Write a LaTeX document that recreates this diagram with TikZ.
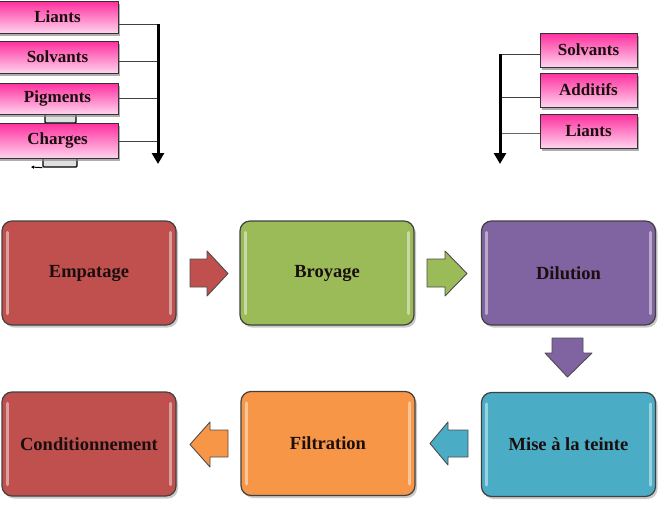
\documentclass[tikz,border=0pt]{standalone}
\usepackage{fontspec}
\setmainfont{Liberation Serif}
\usetikzlibrary{arrows.meta,shadows}
\definecolor{cred}{HTML}{C0504D}
\definecolor{cgreen}{HTML}{9BBB59}
\definecolor{cpurple}{HTML}{8064A2}
\definecolor{cblue}{HTML}{4BACC6}
\definecolor{corange}{HTML}{F79646}
\definecolor{pinktop}{HTML}{FF2E9E}
\definecolor{pinkbot}{HTML}{FFD3EE}
\definecolor{txt}{HTML}{1A0E0E}
\tikzset{
  pinkbox/.style={draw=black!80, line width=0.8pt, top color=pinktop, bottom color=pinkbot,
    text=txt, font=\bfseries\fontsize{17}{17}\selectfont, inner sep=0pt,
    drop shadow={shadow xshift=2pt, shadow yshift=-2.5pt, fill=black!45, opacity=0.7}},
  bigbox/.style={draw=black!75, line width=1.2pt, rounded corners=10pt,
    minimum width=174pt, minimum height=104pt, text=txt,
    font=\bfseries\fontsize{18.5}{18}\selectfont,
    drop shadow={shadow xshift=2pt, shadow yshift=-2.5pt, fill=black!35, opacity=0.6}},
  hlines/.style={line width=3pt, draw=white, opacity=0.45, line cap=round},
  blockarrow/.style={draw=black!70, line width=0.9pt, line join=round},
  feed/.style={draw=black!75, line width=1pt},
  mainarrow/.style={line width=3pt, -{Triangle[width=12pt,length=11pt]}},
  tinybox/.style={draw=black, line width=1.3pt, fill=black!12, inner sep=0pt, rounded corners=1pt},
}
\begin{document}
\begin{tikzpicture}[x=1pt,y=-1pt]
\useasboundingbox (0,0) rectangle (659,509);

% ---- left feed boxes
\node[pinkbox, minimum width=121pt, minimum height=32pt] (lliants) at (57.5,17) {Liants};
\node[pinkbox, minimum width=121pt, minimum height=32pt] (lsolv) at (57.5,57) {Solvants};
\node[tinybox, minimum width=31pt, minimum height=9pt] (tb1) at (60.5,118.5) {};
\node[pinkbox, minimum width=121pt, minimum height=31pt] (lpigm) at (57.5,98.5) {Pigments};
\node[tinybox, minimum width=34pt, minimum height=9pt] (tb2) at (60,162.5) {};
\node[pinkbox, minimum width=121pt, minimum height=35pt] (lcharg) at (57.5,140.5) {Charges};
\coordinate (tbend) at (31,167);
\draw[line width=1pt, -{Triangle[width=3pt,length=3pt]}] (tb2.south west) -- (tbend);

\coordinate (lv1) at (158,24);
\coordinate (lv2) at (158,61);
\coordinate (lv3) at (158,98);
\coordinate (lv4) at (158,141);
\coordinate (lvend) at (158,164);
\draw[feed] (lv1 -| lliants.east) -- (lv1);
\draw[feed] (lv2 -| lsolv.east) -- (lv2);
\draw[feed] (lv3 -| lpigm.east) -- (lv3);
\draw[feed] (lv4 -| lcharg.east) -- (lv4);
\draw[mainarrow] (lv1) -- (lvend);

% ---- right feed boxes
\node[pinkbox, minimum width=97pt, minimum height=34pt] (rsolv) at (588.5,50) {Solvants};
\node[pinkbox, minimum width=97pt, minimum height=34pt] (radd) at (588.5,90) {Additifs};
\node[pinkbox, minimum width=97pt, minimum height=34pt] (rliants) at (588.5,131) {Liants};
\coordinate (rv1) at (500,54);
\coordinate (rv2) at (500,97);
\coordinate (rv3) at (500,133);
\coordinate (rvend) at (500,164);
\draw[feed] (rv1) -- (rv1 -| rsolv.west);
\draw[feed] (rv2) -- (rv2 -| radd.west);
\draw[draw=black!60, line width=0.6pt] (rv3) -- (rv3 -| rliants.west);
\draw[mainarrow] (rv1) -- (rvend);

% ---- process boxes
\node[bigbox, fill=cred] (emp) at (89,273) {Empatage};
\node[bigbox, fill=cgreen] (broy) at (327,273) {Broyage};
\node[bigbox, fill=cpurple] (dil) at (568.5,273) {Dilution};
\node[bigbox, fill=cblue] (mise) at (568.5,444.5) {Mise à la teinte};
\node[bigbox, fill=corange] (filt) at (328,443.5) {Filtration};
\node[bigbox, fill=cred] (cond) at (89,444) {Conditionnement};

% highlights
\foreach \n in {emp,broy,dil,mise,filt,cond}{
  \draw[hlines] ([xshift=6pt,yshift=-12pt]\n.north west) -- ([xshift=6pt,yshift=12pt]\n.south west);
  \draw[hlines] ([xshift=-6pt,yshift=-12pt]\n.north east) -- ([xshift=-6pt,yshift=12pt]\n.south east);
}

% ---- block arrows
\filldraw[blockarrow, fill=cred] (190,259) -- (207,259) -- (207,251) -- (228,273.5) -- (207,296) -- (207,287) -- (190,287) -- cycle;
\filldraw[blockarrow, fill=cgreen] (427,259) -- (445,259) -- (445,251) -- (467,273.5) -- (445,296) -- (445,287) -- (427,287) -- cycle;
\filldraw[blockarrow, fill=cpurple] (552,338) -- (583,338) -- (583,353) -- (592,353) -- (567.5,377) -- (545,353) -- (552,353) -- cycle;
\filldraw[blockarrow, fill=cblue] (468,430) -- (448,430) -- (448,422) -- (430,443.5) -- (448,465) -- (448,457) -- (468,457) -- cycle;
\filldraw[blockarrow, fill=corange] (228,430) -- (210,430) -- (210,422) -- (190,444.5) -- (210,467) -- (210,457) -- (228,457) -- cycle;
\end{tikzpicture}
\end{document}
